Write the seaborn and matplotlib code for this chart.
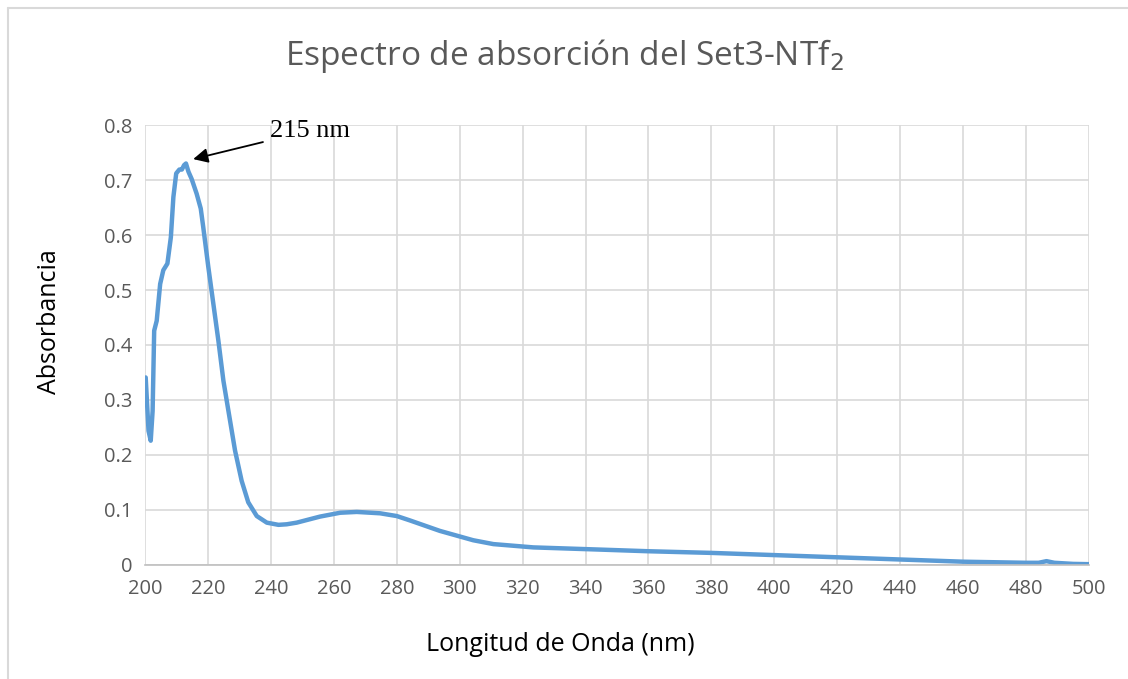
import numpy as np
import pandas as pd
import matplotlib
matplotlib.use("Agg")
import matplotlib.pyplot as plt
import seaborn as sns
from matplotlib.lines import Line2D

wavelength = [200.2, 201.1, 201.8, 202.4, 202.9, 203.7, 204.8, 205.8, 207.1, 208.2,
              209.0, 209.9, 210.9, 211.7, 212.4, 213.0, 213.8, 214.8, 216.4, 217.7,
              218.5, 220.1, 221.7, 223.3, 224.9, 226.5, 228.6, 230.7, 232.8, 235.5,
              238.7, 242.4, 245.0, 248.2, 255.6, 262.0, 267.3, 274.7, 280.0, 284.2,
              293.7, 304.3, 310.7, 323.4, 344.6, 360.0, 380.0, 400.0, 420.0, 440.0,
              460.0, 480.0, 484.0, 486.5, 489.0, 495.0, 500.0]
absorbance = [0.341, 0.244, 0.226, 0.280, 0.426, 0.444, 0.511, 0.536, 0.548, 0.596,
              0.669, 0.712, 0.719, 0.719, 0.727, 0.730, 0.715, 0.702, 0.675, 0.648,
              0.614, 0.542, 0.475, 0.408, 0.335, 0.280, 0.208, 0.153, 0.114, 0.089,
              0.077, 0.073, 0.074, 0.077, 0.088, 0.095, 0.0965, 0.094, 0.089, 0.081,
              0.062, 0.045, 0.038, 0.032, 0.028, 0.025, 0.022, 0.018, 0.014, 0.010,
              0.006, 0.004, 0.004, 0.007, 0.004, 0.002, 0.0015]

title = "Espectro de absorción del Set3-NTf$_2$"
xlabel = "Longitud de Onda (nm)"
ylabel = "Absorbancia"
peak_label = "215 nm"

df = pd.DataFrame({"wl": wavelength, "abs": absorbance})

sns.set_theme(style="white")
plt.rcParams['font.family'] = ['Open Sans', 'DejaVu Sans']

fig = plt.figure(figsize=(11.28, 6.79), dpi=100)
ax = fig.add_axes([0.1286, 0.1679, 0.8368, 0.648])

sns.lineplot(data=df, x="wl", y="abs", ax=ax, color="#5B9BD5", linewidth=3.2)

ax.set_xlim(200, 500)
ax.set_ylim(0, 0.8)
ax.set_xticks(np.arange(200, 501, 20))
ax.set_yticks(np.arange(0, 0.81, 0.1))
ax.set_yticklabels(["0"] + [f"{v:.1f}" for v in np.arange(0.1, 0.81, 0.1)])
ax.grid(True, color="#D9D9D9", linewidth=1.2)
ax.set_axisbelow(True)
for s in ["top", "right", "left"]:
    ax.spines[s].set_visible(False)
ax.spines["bottom"].set_color("#BFBFBF")
ax.spines["bottom"].set_linewidth(1.2)
ax.tick_params(axis="both", length=0, labelsize=14.5, colors="#595959")
ax.tick_params(axis="x", pad=10)
ax.tick_params(axis="y", pad=9)

ax.set_xlabel(xlabel, fontsize=18, color="#000000")
ax.set_ylabel(ylabel, fontsize=18, color="#000000")
ax.xaxis.set_label_coords(0.4396, -0.152)
ax.yaxis.set_label_coords(-0.088, 0.552)

fig.text(0.5, 0.918, title, ha="center", va="center", fontsize=24, color="#595959")

ax.annotate(peak_label, xy=(215.3, 0.738), xytext=(239.8, 0.790),
            fontsize=19, family="Liberation Serif", color="black", va="center",
            arrowprops=dict(arrowstyle="-|>", color="black", lw=1.3,
                            mutation_scale=22, shrinkA=3, shrinkB=0))

fig.lines.append(Line2D([0.0075, 0.0075], [0.0, 0.9875], transform=fig.transFigure,
                        color="#D9D9D9", linewidth=1.5))
fig.lines.append(Line2D([0.0075, 1.0], [0.9875, 0.9875], transform=fig.transFigure,
                        color="#D9D9D9", linewidth=1.5))

fig.savefig("out.png", dpi=100)
